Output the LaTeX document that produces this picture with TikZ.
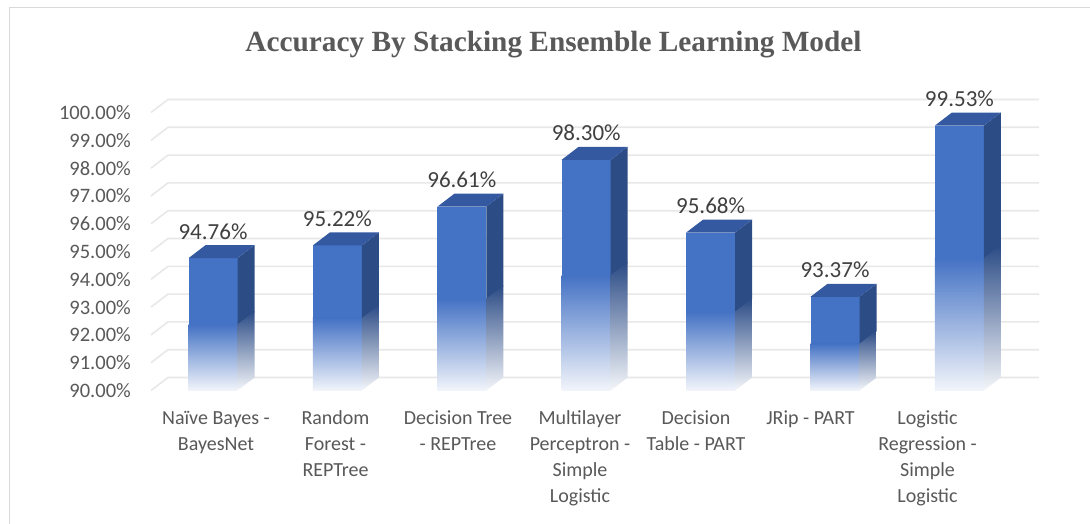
\documentclass[tikz,border=0pt]{standalone}
\usepackage{fontspec}
\setmainfont{Carlito}
\newfontfamily\titlefont{Liberation Serif}
\definecolor{txtgrey}{HTML}{595959}
\definecolor{valgrey}{HTML}{404040}
\definecolor{gridc}{HTML}{E8E8E8}
\definecolor{framec}{HTML}{D9D9D9}
\definecolor{barfront}{HTML}{4472C4}
\definecolor{barside}{HTML}{2C4C86}
\definecolor{bartop}{HTML}{3459A0}
\definecolor{barfade}{HTML}{F2F5FB}
\definecolor{sidefade}{HTML}{F4F6FA}
\tikzset{
  gridline/.style={draw=gridc, line width=1.6pt},
  frameline/.style={draw=framec, line width=1.5pt},
  ylab/.style={text=txtgrey, font=\fontsize{20.5}{24}\selectfont, inner sep=0pt, anchor=east},
  vlab/.style={text=valgrey, font=\fontsize{23}{27}\selectfont, inner sep=0pt, anchor=base},
  clab/.style={text=txtgrey, font=\fontsize{20}{26}\selectfont, inner sep=0pt, align=center, anchor=base},
  titlelab/.style={text=txtgrey, font=\titlefont\bfseries\fontsize{29.3}{32}\selectfont, inner sep=0pt, anchor=base}
}
\begin{document}
\begin{tikzpicture}[x=1pt,y=-1pt]
\useasboundingbox (0,0) rectangle (1090,524);
\fill[white] (0,0) rectangle (1090,524);
% frame (left and top edges visible)
\draw[frameline] (9.5,524) -- (9.5,7.3) -- (1090,7.3);
% title
\node[titlelab] (title) at (553.5,52) {Accuracy By Stacking Ensemble Learning Model};
% grid and y labels
\foreach \k in {0,...,10}{
  \pgfmathsetmacro{\yf}{390.5-27.8*\k}
  \draw[gridline] (151,\yf) -- (168,\yf-13) -- (1039,\yf-13);
  \pgfmathtruncatemacro{\val}{90+\k}
  \node[ylab] (y\k) at (131,\yf) {\val.00\%};
}
% bars
\foreach \i/\v in {0/94.76,1/95.22,2/96.61,3/98.30,4/95.68,5/93.37,6/99.53}{
  \pgfmathsetmacro{\xl}{188.5+124.4*\i}
  \pgfmathsetmacro{\xr}{\xl+49}
  \pgfmathsetmacro{\yt}{390.5-27.8*(\v-90)}
  \pgfmathsetmacro{\ym}{(\yt+390.5)/2}
  \fill[barfront] (\xl,\yt) rectangle (\xr,\ym+0.8);
  \shade[top color=barfront, bottom color=barfade] (\xl,\ym) rectangle (\xr,390.5);
  \fill[barside] (\xr,\yt) -- (\xr+17,\yt-13) -- (\xr+17,\ym-12.2) -- (\xr,\ym+0.8) -- cycle;
  \shade[top color=barside, bottom color=sidefade] (\xr,\ym) -- (\xr+17,\ym-13) -- (\xr+17,377.5) -- (\xr,390.5) -- cycle;
  \fill[bartop] (\xl,\yt) -- (\xr,\yt) -- (\xr+17,\yt-13) -- (\xl+17,\yt-13) -- cycle;
  \node[vlab] (v\i) at (\xl+24.5,\yt-19) {\v\%};
}
% category labels (base anchor = last line's baseline)
\foreach \i/\cx/\n/\lab in {0/216/2/{Naïve Bayes -\\BayesNet},
                         1/335.5/3/{Random\\Forest -\\REPTree},
                         2/458/2/{Decision Tree\\- REPTree},
                         3/580/4/{Multilayer\\Perceptron -\\Simple\\Logistic},
                         4/696/2/{Decision\\Table - PART},
                         5/810.5/1/{JRip - PART},
                         6/927.5/4/{Logistic\\Regression -\\Simple\\Logistic}}{
  \node[clab] (c\i) at (\cx,{424+26*(\n-1)}) {\lab};
}
\end{tikzpicture}
\end{document}
